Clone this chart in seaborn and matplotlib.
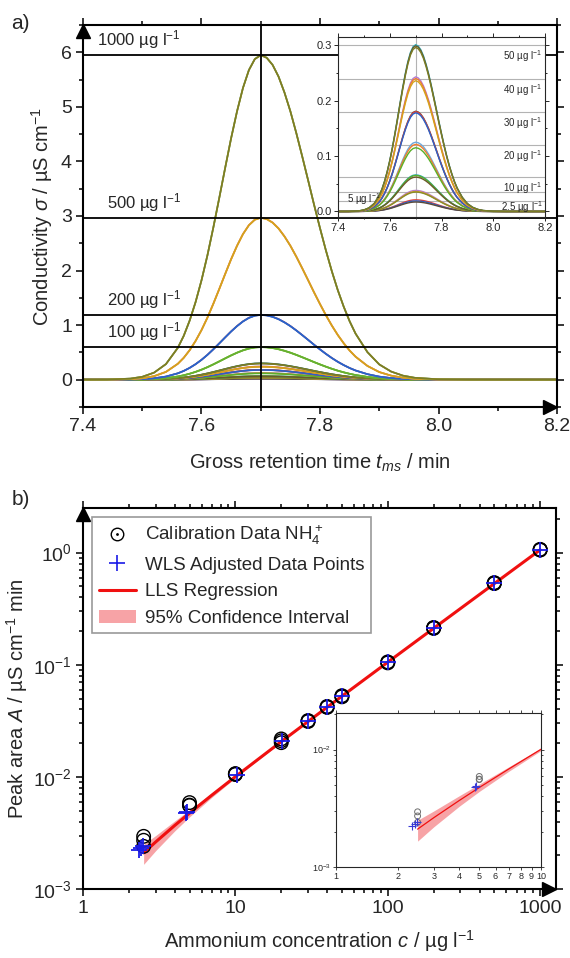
import numpy as np
import pandas as pd
import matplotlib
matplotlib.use("Agg")
import matplotlib.pyplot as plt
import matplotlib.transforms as mtransforms
from matplotlib.lines import Line2D
from matplotlib.patches import Patch
from matplotlib.ticker import MultipleLocator, FixedLocator, FixedFormatter, LogLocator, NullFormatter
import seaborn as sns

# ---- a) chromatograms: normalised peak profile ----
peak_t = [7.40, 7.44, 7.48, 7.50, 7.52, 7.54, 7.56, 7.57, 7.58, 7.59, 7.60, 7.61, 7.62,
          7.63, 7.64, 7.65, 7.66, 7.67, 7.68, 7.69, 7.70, 7.71, 7.72, 7.73, 7.74, 7.75,
          7.76, 7.77, 7.78, 7.79, 7.80, 7.81, 7.82, 7.83, 7.84, 7.85, 7.86, 7.88, 7.90,
          7.92, 7.94, 7.96, 8.00, 8.05, 8.20]
peak_shape = [0.0, 0.0003, 0.0033, 0.0088, 0.0217, 0.048, 0.098, 0.135, 0.182, 0.239, 0.306,
              0.383, 0.469, 0.560, 0.653, 0.744, 0.827, 0.899, 0.954, 0.988, 1.0, 0.992,
              0.970, 0.934, 0.885, 0.827, 0.760, 0.688, 0.614, 0.539, 0.467, 0.398, 0.334,
              0.276, 0.225, 0.180, 0.142, 0.085, 0.047, 0.025, 0.0124, 0.0058, 0.0012,
              0.0002, 0.0]

std_conc = [2.5, 5, 10, 20, 30, 40, 50, 100, 200, 500, 1000]
peak_heights = [
    [0.021, 0.019, 0.017],
    [0.038, 0.036, 0.035],
    [0.066, 0.065, 0.062],
    [0.125, 0.121, 0.115],
    [0.181, 0.180, 0.178],
    [0.243, 0.240, 0.236],
    [0.301, 0.299, 0.296],
    [0.600, 0.598, 0.596],
    [1.190, 1.188, 1.186],
    [2.970, 2.968, 2.966],
    [5.950, 5.948, 5.946],
]
peak_colors = [
    ["#e0413a", "#2a62c9", "#5b4a3a"],
    ["#b57bd1", "#d4a21c", "#8a8a2a"],
    ["#2aa7b8", "#5ab02a", "#6b5a2a"],
    ["#6fa8dc", "#f07d2c", "#5ab02a"],
    ["#6a4a3a", "#e0413a", "#2a62c9"],
    ["#b57bd1", "#f07d2c", "#d4a21c"],
    ["#2aa7b8", "#6b5a2a", "#7a7d25"],
    ["#5ab02a", "#7fc02a", "#66b032"],
    ["#e0413a", "#3a78d4", "#2a62c9"],
    ["#e86a8a", "#e8a33d", "#d4a21c"],
    ["#2aa7b8", "#d4a21c", "#7a7d25"],
]
level_lines = [5.95, 2.97, 1.19, 0.60]
level_text = ["1000 µg l$^{-1}$", "500 µg l$^{-1}$", "200 µg l$^{-1}$", "100 µg l$^{-1}$"]
level_text_x = [7.424, 7.44, 7.44, 7.44]
inset_lines = [0.30, 0.24, 0.18, 0.12, 0.063, 0.035, 0.018]
inset_text = ["50 µg l$^{-1}$", "40 µg l$^{-1}$", "30 µg l$^{-1}$", "20 µg l$^{-1}$", "10 µg l$^{-1}$"]

# ---- b) calibration ----
cal_conc = [2.5, 2.5, 2.5, 5, 5, 5, 10, 10, 10, 20, 20, 20, 30, 30, 30, 40, 40, 40,
            50, 50, 50, 100, 100, 100, 200, 200, 200, 500, 500, 500, 1000, 1000, 1000]
cal_area = [0.00295, 0.00272, 0.00240, 0.00590, 0.00560, 0.00555, 0.0107, 0.0106, 0.0105,
            0.0218, 0.0210, 0.0202, 0.0318, 0.0315, 0.0312, 0.0425, 0.0420, 0.0417,
            0.0530, 0.0522, 0.0518, 0.1060, 0.1050, 0.1040, 0.2150, 0.2130, 0.2110,
            0.5400, 0.5350, 0.5300, 1.070, 1.062, 1.055]
wls_conc = [2.34, 2.42, 2.47, 4.77, 4.82, 10.3, 20.2, 30.1, 40.2, 50.1, 100, 200, 500, 1000]
wls_area = [0.00224, 0.00232, 0.00240, 0.00478, 0.00485, 0.0104, 0.0210, 0.0314, 0.0420,
            0.0522, 0.1050, 0.2130, 0.5350, 1.062]
fit_conc = [2.5, 3, 4, 5, 7, 10, 20, 50, 100, 200, 500, 1000]
fit_area = [0.00210, 0.00263, 0.00369, 0.00475, 0.00687, 0.01005, 0.02065, 0.05245,
            0.10545, 0.21145, 0.52945, 1.05945]
ci_low = [0.00166, 0.00220, 0.00330, 0.00440, 0.00657, 0.00980, 0.02040, 0.05220,
          0.10520, 0.21120, 0.52920, 1.05920]
ci_high = [0.00250, 0.00300, 0.00405, 0.00508, 0.00716, 0.01030, 0.02090, 0.05270,
           0.10570, 0.21170, 0.52970, 1.05970]

sns.set_style("ticks")
plt.rcParams["font.family"] = ["Liberation Sans", "DejaVu Sans"]
plt.rcParams["mathtext.fontset"] = "custom"
plt.rcParams["mathtext.rm"] = "Liberation Sans"
plt.rcParams["mathtext.it"] = "Liberation Sans:italic"
plt.rcParams["mathtext.bf"] = "Liberation Sans:bold"

TICK_FS = 14
LABEL_FS = 14.5

# long table of all chromatogram curves
rows = []
for c, hs, cols in zip(std_conc, peak_heights, peak_colors):
    for j, h in enumerate(hs):
        for t, s in zip(peak_t, peak_shape):
            rows.append((t, h * s, f"{c}_{j}", cols[j], c))
chrom = pd.DataFrame(rows, columns=["t", "sigma", "curve", "color", "conc"])
curve_order = list(dict.fromkeys(chrom["curve"]))
curve_pal = dict(zip(chrom["curve"], chrom["color"]))

fig = plt.figure(figsize=(5.7, 9.58), dpi=100)


def style_main(ax):
    for sp in ax.spines.values():
        sp.set_linewidth(1.5)
        sp.set_color("black")
    ax.tick_params(which="both", direction="out", top=True, right=True,
                   labeltop=False, labelright=False, width=1.3, labelsize=TICK_FS, pad=3)
    ax.tick_params(which="major", length=5)
    ax.tick_params(which="minor", length=3)
    # arrow heads on the axes
    up = mtransforms.offset_copy(ax.transAxes, fig=fig, x=0, y=-6, units="dots")
    rt = mtransforms.offset_copy(ax.transAxes, fig=fig, x=-7, y=0, units="dots")
    ax.plot([0], [1], marker="^", ms=10, color="black", transform=up, clip_on=False, zorder=10)
    ax.plot([1], [0], marker=">", ms=10, color="black", transform=rt, clip_on=False, zorder=10)


# ---------------- panel a ----------------
ax1 = fig.add_axes([0.1456, 0.5752, 0.8316, 0.3987])
sns.lineplot(data=chrom, x="t", y="sigma", hue="curve", hue_order=curve_order,
             palette=curve_pal, legend=False, estimator=None, sort=False, lw=1.2, ax=ax1)
for y, txt, tx in zip(level_lines, level_text, level_text_x):
    ax1.axhline(y, color="black", lw=1.3, zorder=5)
    ax1.text(tx, y + 0.07, txt, fontsize=12, ha="left", va="bottom", zorder=6)
ax1.axvline(7.7, color="black", lw=1.3, zorder=5)
ax1.set_xlim(7.4, 8.2)
ax1.set_ylim(-0.5, 6.5)
ax1.xaxis.set_minor_locator(MultipleLocator(0.1))
ax1.yaxis.set_major_locator(MultipleLocator(1))
ax1.yaxis.set_minor_locator(MultipleLocator(0.5))
ax1.set_xticks([7.4, 7.6, 7.8, 8.0, 8.2])
ax1.set_xticklabels(["7.4", "7.6", "7.8", "8.0", "8.2"])
ax1.set_xlabel("Gross retention time $t_{ms}$ / min", fontsize=LABEL_FS, labelpad=12)
ax1.set_ylabel(r"Conductivity $\sigma$ / µS cm$^{-1}$", fontsize=LABEL_FS, labelpad=4)
style_main(ax1)
fig.text(0.02, 0.985, "a)", fontsize=15, ha="left", va="top")

# inset a
axi = fig.add_axes([0.593, 0.7735, 0.3632, 0.1879])
small = chrom[chrom["conc"] <= 50]
sns.lineplot(data=small, x="t", y="sigma", hue="curve",
             hue_order=[c for c in curve_order if c in set(small["curve"])],
             palette=curve_pal, legend=False, estimator=None, sort=False, lw=1.0, ax=axi)
for y in inset_lines:
    axi.axhline(y, color="#b3b3b3", lw=0.8, zorder=0)
axi.axvline(7.7, color="#b3b3b3", lw=0.8, zorder=0)
for y, txt in zip(inset_lines[:5], inset_text):
    axi.text(8.19, y - 0.006, txt, fontsize=7, ha="right", va="top")
axi.text(7.435, 0.022, "5 µg l$^{-1}$", fontsize=7, ha="left", va="center")
axi.text(8.19, 0.008, "2.5 µg l$^{-1}$", fontsize=7, ha="right", va="center")
axi.set_xlim(7.4, 8.2)
axi.set_ylim(-0.01, 0.315)
axi.set_xticks([7.4, 7.6, 7.8, 8.0, 8.2])
axi.set_xticklabels(["7.4", "7.6", "7.8", "8.0", "8.2"])
axi.xaxis.set_minor_locator(MultipleLocator(0.1))
axi.set_yticks([0.0, 0.1, 0.2, 0.3])
axi.set_yticklabels(["0.0", "0.1", "0.2", "0.3"])
axi.yaxis.set_minor_locator(MultipleLocator(0.05))
axi.set_xlabel("")
axi.set_ylabel("")
for sp in axi.spines.values():
    sp.set_linewidth(0.8)
axi.tick_params(which="both", direction="out", labelsize=8, width=0.7, pad=1.5,
                top=True, right=True)
axi.tick_params(which="major", length=3)
axi.tick_params(which="minor", length=1.5)

# ---------------- panel b ----------------
ax2 = fig.add_axes([0.1456, 0.072, 0.8298, 0.3977])
ax2.set_xscale("log")
ax2.set_yscale("log")
ax2.fill_between(fit_conc, ci_low, ci_high, color="#f7a3a6", lw=0, zorder=1)
sns.lineplot(x=fit_conc, y=fit_area, color="#f01010", lw=2.2, ax=ax2, zorder=3)
sns.scatterplot(x=cal_conc, y=cal_area, marker="o", s=95, facecolor="none",
                edgecolor="black", linewidth=1.0, ax=ax2, zorder=4)
sns.scatterplot(x=wls_conc, y=wls_area, marker="+", s=130, color="#1a1ae6",
                linewidth=1.3, ax=ax2, zorder=5)
ax2.set_xlim(1, 1270)
ax2.set_ylim(1e-3, 2.5)
ax2.xaxis.set_major_locator(FixedLocator([1, 10, 100, 1000]))
ax2.xaxis.set_major_formatter(FixedFormatter(["1", "10", "100", "1000"]))
ax2.xaxis.set_minor_locator(LogLocator(base=10, subs=np.arange(2, 10)))
ax2.xaxis.set_minor_formatter(NullFormatter())
ax2.yaxis.set_major_locator(LogLocator(base=10))
ax2.yaxis.set_minor_locator(LogLocator(base=10, subs=np.arange(2, 10)))
ax2.yaxis.set_minor_formatter(NullFormatter())
ax2.set_xlabel("Ammonium concentration $c$ / µg l$^{-1}$", fontsize=LABEL_FS, labelpad=8)
ax2.set_ylabel("Peak area $A$ / µS cm$^{-1}$ min", fontsize=LABEL_FS, labelpad=2)
style_main(ax2)
fig.text(0.02, 0.489, "b)", fontsize=15, ha="left", va="top")

h_cal = (Line2D([], [], marker="o", ms=9, mfc="none", mec="black", ls=""),
         Line2D([], [], marker=".", ms=2, color="black", ls=""))
h_wls = Line2D([], [], marker="+", ms=11, mew=1.2, color="#1a1ae6", ls="")
h_fit = Line2D([], [], color="#f01010", lw=2.2)
h_ci = Patch(facecolor="#f7a3a6", edgecolor="none")
leg = ax2.legend([h_cal, h_wls, h_fit, h_ci],
                 ["Calibration Data NH$_4^+$", "WLS Adjusted Data Points", "LLS Regression",
                  "95% Confidence Interval"],
                 loc="upper left", bbox_to_anchor=(0.019, 0.976), borderaxespad=0,
                 fontsize=13.5, frameon=True, fancybox=False, framealpha=1,
                 edgecolor="#9a9a9a", handlelength=2.0, handletextpad=0.5,
                 borderpad=0.35, labelspacing=0.5)
leg.get_frame().set_linewidth(1.2)

# inset b
axj = fig.add_axes([0.5895, 0.095, 0.3596, 0.1608])
axj.set_xscale("log")
axj.set_yscale("log")
axj.fill_between(fit_conc, ci_low, ci_high, color="#f7a3a6", lw=0, zorder=1)
sns.lineplot(x=fit_conc, y=fit_area, color="#f01010", lw=0.9, ax=axj, zorder=3)
sns.scatterplot(x=cal_conc[:6], y=cal_area[:6], marker="o", s=18, facecolor="none",
                edgecolor="#6e6e6e", linewidth=0.7, ax=axj, zorder=4)
sns.scatterplot(x=wls_conc[:5], y=wls_area[:5], marker="+", s=30, color="#3a3ad6",
                linewidth=0.8, ax=axj, zorder=5)
axj.set_xlim(1, 10)
axj.set_ylim(1e-3, 0.0205)
axj.xaxis.set_major_locator(FixedLocator(list(range(1, 11))))
axj.xaxis.set_major_formatter(FixedFormatter([str(i) for i in range(1, 11)]))
axj.xaxis.set_minor_locator(FixedLocator([]))
axj.yaxis.set_major_locator(LogLocator(base=10))
axj.yaxis.set_minor_locator(LogLocator(base=10, subs=np.arange(2, 10)))
axj.yaxis.set_minor_formatter(NullFormatter())
for sp in axj.spines.values():
    sp.set_linewidth(0.8)
axj.tick_params(which="both", direction="out", labelsize=6.5, width=0.6, pad=1.5,
                top=True, right=True, length=2)
axj.tick_params(which="minor", length=1.5)

fig.savefig("out.png", dpi=100)
